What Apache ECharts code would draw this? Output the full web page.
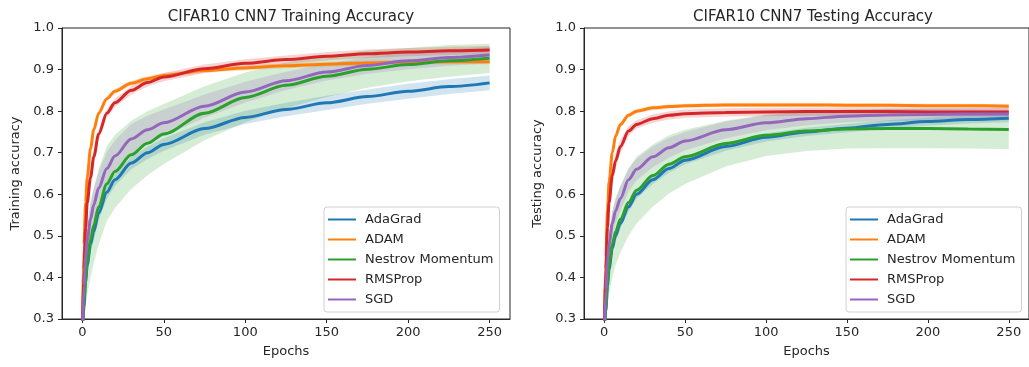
<!DOCTYPE html>
<html>
<head>
<meta charset="utf-8">
<script src="https://cdn.jsdelivr.net/npm/echarts@6/dist/echarts.min.js"></script>
<style>
  html, body { margin: 0; padding: 0; background: #fff; }
  #main { width: 1029px; height: 367px; }
</style>
</head>
<body>
<div id="main"></div>
<script>
  // 数据
  var names = ["AdaGrad", "ADAM", "Nestrov Momentum", "RMSProp", "SGD"];
  var colors = ["#1f77b4", "#ff7f0e", "#2ca02c", "#d62728", "#9467bd"];
  var epochs = [0, 1, 2, 3, 5, 7, 10, 15, 20, 30, 40, 50, 75, 100, 125, 150, 175, 200, 225, 250];
  var xTicks = [0, 50, 100, 150, 200, 250];

  // training accuracy, mean
  var trainAdaGrad = [0.25, 0.33, 0.39, 0.43, 0.48, 0.51, 0.555, 0.605, 0.635, 0.675, 0.70, 0.72, 0.758, 0.785, 0.804, 0.82, 0.835, 0.848, 0.859, 0.868];
  var trainAdam = [0.28, 0.48, 0.58, 0.64, 0.71, 0.755, 0.795, 0.83, 0.848, 0.867, 0.878, 0.886, 0.898, 0.904, 0.909, 0.913, 0.916, 0.918, 0.919, 0.919];
  var trainNestrov = [0.25, 0.34, 0.40, 0.44, 0.49, 0.525, 0.57, 0.625, 0.655, 0.695, 0.723, 0.745, 0.795, 0.833, 0.862, 0.884, 0.901, 0.912, 0.921, 0.927];
  var trainRms = [0.27, 0.42, 0.52, 0.58, 0.64, 0.69, 0.745, 0.795, 0.82, 0.85, 0.869, 0.882, 0.902, 0.915, 0.924, 0.932, 0.938, 0.942, 0.945, 0.947];
  var trainSgd = [0.26, 0.38, 0.45, 0.49, 0.54, 0.575, 0.615, 0.662, 0.692, 0.733, 0.755, 0.772, 0.812, 0.846, 0.873, 0.894, 0.91, 0.921, 0.929, 0.935];
  // training accuracy, spread (half width of shaded band)
  var trainAdaGradSd = [0, 0.02, 0.02, 0.02, 0.02, 0.02, 0.018, 0.016, 0.015, 0.015, 0.015, 0.015, 0.015, 0.016, 0.016, 0.017, 0.017, 0.018, 0.018, 0.018];
  var trainAdamSd = [0, 0.02, 0.015, 0.012, 0.01, 0.008, 0.007, 0.006, 0.006, 0.006, 0.006, 0.006, 0.006, 0.006, 0.006, 0.006, 0.006, 0.006, 0.006, 0.006];
  var trainNestrovSd = [0, 0.05, 0.07, 0.08, 0.09, 0.09, 0.09, 0.09, 0.088, 0.082, 0.077, 0.072, 0.065, 0.06, 0.055, 0.05, 0.045, 0.04, 0.038, 0.035];
  var trainRmsSd = [0, 0.03, 0.025, 0.02, 0.015, 0.012, 0.01, 0.01, 0.01, 0.01, 0.01, 0.01, 0.01, 0.01, 0.01, 0.01, 0.01, 0.01, 0.01, 0.01];
  var trainSgdSd = [0, 0.03, 0.035, 0.038, 0.04, 0.04, 0.04, 0.04, 0.038, 0.036, 0.034, 0.032, 0.028, 0.025, 0.022, 0.02, 0.02, 0.02, 0.02, 0.02];

  // testing accuracy, mean
  var testAdaGrad = [0.25, 0.32, 0.38, 0.42, 0.47, 0.50, 0.53, 0.57, 0.60, 0.635, 0.662, 0.682, 0.715, 0.737, 0.75, 0.759, 0.768, 0.775, 0.78, 0.783];
  var testAdam = [0.28, 0.45, 0.56, 0.63, 0.70, 0.74, 0.768, 0.79, 0.80, 0.808, 0.811, 0.813, 0.815, 0.815, 0.815, 0.814, 0.814, 0.813, 0.813, 0.812];
  var testNestrov = [0.25, 0.33, 0.39, 0.43, 0.48, 0.51, 0.54, 0.58, 0.61, 0.645, 0.672, 0.69, 0.722, 0.742, 0.752, 0.757, 0.758, 0.758, 0.757, 0.756];
  var testRms = [0.27, 0.42, 0.52, 0.58, 0.645, 0.68, 0.715, 0.752, 0.768, 0.782, 0.79, 0.794, 0.797, 0.798, 0.799, 0.799, 0.799, 0.798, 0.798, 0.798];
  var testSgd = [0.26, 0.37, 0.44, 0.48, 0.53, 0.56, 0.59, 0.635, 0.66, 0.69, 0.712, 0.728, 0.755, 0.772, 0.782, 0.788, 0.791, 0.792, 0.793, 0.793];
  // testing accuracy, spread
  var testAdaGradSd = [0, 0.015, 0.015, 0.015, 0.012, 0.012, 0.012, 0.012, 0.01, 0.01, 0.01, 0.01, 0.01, 0.01, 0.01, 0.01, 0.01, 0.01, 0.01, 0.01];
  var testAdamSd = [0, 0.02, 0.015, 0.01, 0.008, 0.006, 0.005, 0.005, 0.005, 0.005, 0.005, 0.005, 0.005, 0.005, 0.005, 0.005, 0.005, 0.005, 0.005, 0.005];
  var testNestrovSd = [0, 0.05, 0.06, 0.07, 0.08, 0.08, 0.08, 0.08, 0.08, 0.075, 0.07, 0.065, 0.055, 0.05, 0.048, 0.047, 0.047, 0.047, 0.047, 0.047];
  var testRmsSd = [0, 0.03, 0.025, 0.02, 0.02, 0.018, 0.015, 0.012, 0.01, 0.01, 0.01, 0.01, 0.01, 0.01, 0.01, 0.01, 0.01, 0.01, 0.01, 0.01];
  var testSgdSd = [0, 0.03, 0.03, 0.03, 0.03, 0.03, 0.03, 0.028, 0.026, 0.025, 0.024, 0.022, 0.02, 0.018, 0.016, 0.015, 0.015, 0.015, 0.015, 0.015];

  var trainMeans = [trainAdaGrad, trainAdam, trainNestrov, trainRms, trainSgd];
  var trainSds = [trainAdaGradSd, trainAdamSd, trainNestrovSd, trainRmsSd, trainSgdSd];
  var testMeans = [testAdaGrad, testAdam, testNestrov, testRms, testSgd];
  var testSds = [testAdaGradSd, testAdamSd, testNestrovSd, testRmsSd, testSgdSd];

  var font = "DejaVu Sans";
  var textColor = "#262626";

  function pairs(arr) {
    return epochs.map(function(e, i) { return [e, arr[i]]; });
  }

  // 阴影带: one custom polygon per optimizer (mean +- spread)
  function bandSeries(idx, mean, sd, color) {
    var pts = epochs.map(function(e, i) { return [e, mean[i] - sd[i], mean[i] + sd[i]]; });
    return {
      type: "custom", xAxisIndex: idx, yAxisIndex: idx, silent: true, z: 1,
      data: [0],
      encode: { x: -1, y: -1 },
      renderItem: function(params, api) {
        var low = pts.map(function(p) { return api.coord([p[0], p[1]]); });
        var high = pts.map(function(p) { return api.coord([p[0], p[2]]); }).reverse();
        var cs = params.coordSys;
        var poly = echarts.graphic.clipPointsByRect(low.concat(high), {
          x: cs.x, y: cs.y, width: cs.width, height: cs.height
        });
        return {
          type: "polygon",
          shape: { points: poly },
          style: { fill: color, opacity: 0.2 }
        };
      }
    };
  }

  function buildSeries(idx, means, sds) {
    var out = [];
    names.forEach(function(name, k) {
      out.push(bandSeries(idx, means[k], sds[k], colors[k]));
    });
    names.forEach(function(name, k) {
      out.push({
        name: name, type: "line", xAxisIndex: idx, yAxisIndex: idx,
        data: pairs(means[k]), smooth: 0.3, smoothMonotone: "x",
        showSymbol: false, lineStyle: { color: colors[k], width: 3 },
        itemStyle: { color: colors[k] }, z: 3
      });
    });
    return out;
  }

  function xAxisOf(idx) {
    return {
      gridIndex: idx, type: "value", min: -12.5, max: 262.5,
      name: "Epochs", nameLocation: "middle", nameGap: 26,
      nameTextStyle: { fontFamily: font, fontSize: 13, color: textColor },
      splitLine: { show: false },
      axisLine: { onZero: false, lineStyle: { color: "#262626", width: 1 } },
      axisTick: { show: true, length: 4, customValues: xTicks, lineStyle: { color: "#262626" } },
      axisLabel: { customValues: xTicks, margin: 7, fontFamily: font, fontSize: 13, color: textColor }
    };
  }

  function yAxisOf(idx, label) {
    return {
      gridIndex: idx, type: "value", min: 0.3, max: 1.0, interval: 0.1,
      name: label, nameLocation: "middle", nameGap: 40,
      nameTextStyle: { fontFamily: font, fontSize: 13, color: textColor },
      splitLine: { show: false },
      axisLine: { show: true, onZero: false, lineStyle: { color: "#262626", width: 1 } },
      axisTick: { show: true, length: 4, lineStyle: { color: "#262626" } },
      axisLabel: {
        margin: 8, fontFamily: font, fontSize: 13, color: textColor,
        formatter: function(v) { return v.toFixed(1); }
      }
    };
  }

  function legendOf(left) {
    return {
      data: names, orient: "vertical", left: left, top: 207,
      icon: "rect", itemWidth: 28, itemHeight: 2, itemGap: 5,
      backgroundColor: "#fff", borderColor: "#d0d0d0", borderWidth: 1, borderRadius: 3,
      padding: [5, 6, 5, 4],
      textStyle: { fontFamily: font, fontSize: 13, color: textColor, lineHeight: 15, padding: [0, 0, 0, 4] }
    };
  }

  var chart = echarts.init(document.getElementById("main"));
  chart.setOption({
    animation: false,
    backgroundColor: "#fff",
    title: [
      { text: "CIFAR10 CNN7 Training Accuracy", left: 286, top: 5, textAlign: "center",
        textStyle: { fontFamily: font, fontSize: 15, fontWeight: "normal", color: textColor } },
      { text: "CIFAR10 CNN7 Testing Accuracy", left: 808, top: 5, textAlign: "center",
        textStyle: { fontFamily: font, fontSize: 15, fontWeight: "normal", color: textColor } }
    ],
    legend: [legendOf(324), legendOf(846)],
    grid: [
      { left: 62, top: 28, width: 448, height: 291, show: true, borderColor: "#262626", borderWidth: 1, backgroundColor: "transparent" },
      { left: 584, top: 28, width: 448, height: 291, show: true, borderColor: "#262626", borderWidth: 1, backgroundColor: "transparent" }
    ],
    xAxis: [xAxisOf(0), xAxisOf(1)],
    yAxis: [yAxisOf(0, "Training accuracy"), yAxisOf(1, "Testing accuracy")],
    series: buildSeries(0, trainMeans, trainSds).concat(buildSeries(1, testMeans, testSds))
  });
</script>
</body>
</html>
